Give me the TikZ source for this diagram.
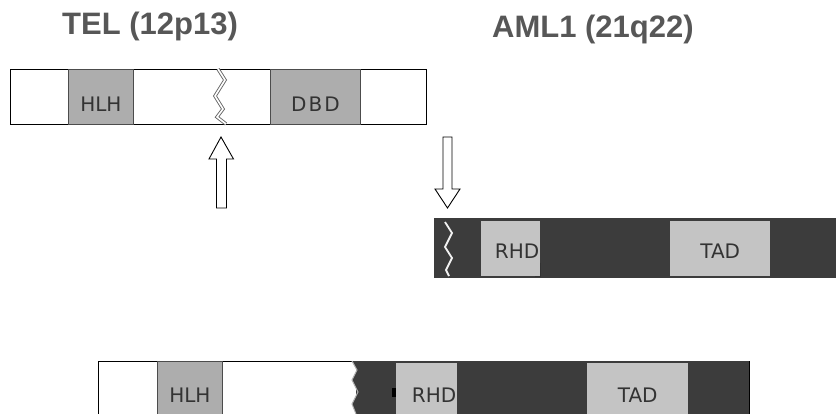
\documentclass[tikz,border=0pt]{standalone}
\usepackage{fontspec}
\setmainfont{DejaVu Sans}
\newfontfamily\titlefont{Liberation Sans}
\usetikzlibrary{positioning}

\definecolor{darkbar}{HTML}{3C3C3C}
\definecolor{hlhgray}{HTML}{ADADAD}
\definecolor{lightdom}{HTML}{C4C4C4}
\definecolor{titlegray}{HTML}{575757}
\definecolor{labelgray}{HTML}{333333}

\begin{document}
\begin{tikzpicture}[x=1pt, y=-1pt,
    title/.style={font=\titlefont\fontsize{31}{31}\selectfont\bfseries, text=titlegray, inner sep=0, anchor=base west},
    bar/.style={rectangle, anchor=north west, inner sep=0, minimum height=#1},
    whitebar/.style={bar=#1, draw=black, line width=1.1pt, fill=white},
    darkseg/.style={bar=#1, fill=darkbar},
    dombox/.style={rectangle, anchor=north west, inner sep=0, font=\fontsize{20}{20}\selectfont, text=labelgray},
    hlhbox/.style={dombox, fill=hlhgray, draw=black!70, line width=0.8pt},
    litebox/.style={dombox, fill=lightdom},
    blockarrow/.style={draw=black, line width=0.9pt, fill=white, line join=miter},
    zig/.style={line width=0.9pt, draw=gray!80!black, double=white, double distance=1.6pt},
    whitezig/.style={line width=1.8pt, draw=white!90!gray}
  ]

  \clip (0,0) rectangle (836,414);
  \useasboundingbox (0,0) rectangle (836,414);

  % ============ TITLES ============
  \node[title] (teltitle) at (62,35) {TEL (12p13)};
  \node[title] (amltitle) at (492,38) {AML1 (21q22)};

  % ============ TEL ============
  \node[whitebar=55pt, minimum width=416pt] (telbar) at (10,69) {};
  \node[hlhbox, minimum width=65pt, minimum height=55pt, text height=30pt] (telhlh) at (68,69) {HLH};
  \node[hlhbox, minimum width=90pt, minimum height=55pt, text height=30pt,
    font=\fontsize{20}{20}\selectfont\addfontfeature{LetterSpace=10}] (teldbd) at (270,69) {DBD};
  % break point
  \draw[zig] (218,69) -- (225,80) -- (215,96) -- (223,109) -- (217,117) -- (226,124);

  % ============ AML1 ============
  \node[darkseg=60pt, minimum width=410pt] (amlbar) at (434,218) {};
  \node[litebox, minimum width=59pt, minimum height=55pt, text height=19pt,
    text width=57pt, align=right] (amlrhd) at (481,221) {RHD};
  \node[litebox, minimum width=100pt, minimum height=55pt, text height=19pt] (amltad) at (670,221) {TAD};
  \draw[black!80, line width=0.8pt] (540,263) -- (540,276) -- (535,276);
  % break point
  \draw[whitezig] (445,222) -- (452,233) -- (445,247) -- (452,258) -- (446,270) -- (449,276);

  % ============ ARROWS ============
  % breakpoint in TEL
  \draw[blockarrow] (216.5,208) -- (216.5,159) -- (209,159) -- (221,137) -- (233.5,159)
    -- (226.5,159) -- (226.5,208) -- cycle;
  % breakpoint in AML1
  \draw[blockarrow] (443,137) -- (452,137) -- (452,189) -- (460,189) -- (447.5,208)
    -- (435,189) -- (443,189) -- cycle;

  % ============ FUSION ============
  \node[whitebar=57pt, minimum width=651pt] (fusbar) at (98,361) {};
  \node[darkseg=57pt, minimum width=393pt] (fusdark) at (356,361) {};
  \fill[darkbar] (fusdark.north west) -- (352,361) -- (357,370) -- (352,380) -- (358,392) -- (352,404) -- (356,414) -- (fusdark.south west) -- cycle;
  \draw[line width=1pt, draw=gray!60] (352,361) -- (357,370) -- (352,380) -- (358,392) -- (352,404) -- (356,414);
  \node[hlhbox, minimum width=65pt, minimum height=57pt, text height=26pt] (fushlh) at (157,361) {HLH};
  \node[litebox, minimum width=61pt, minimum height=55pt, text height=23pt,
    text width=59pt, align=right] (fusrhd) at (396,363) {RHD};
  \node[litebox, minimum width=101pt, minimum height=55pt, text height=24pt] (fustad) at (587,363) {TAD};
  \fill[black] (392,388) rectangle (396,397);

\end{tikzpicture}
\end{document}
